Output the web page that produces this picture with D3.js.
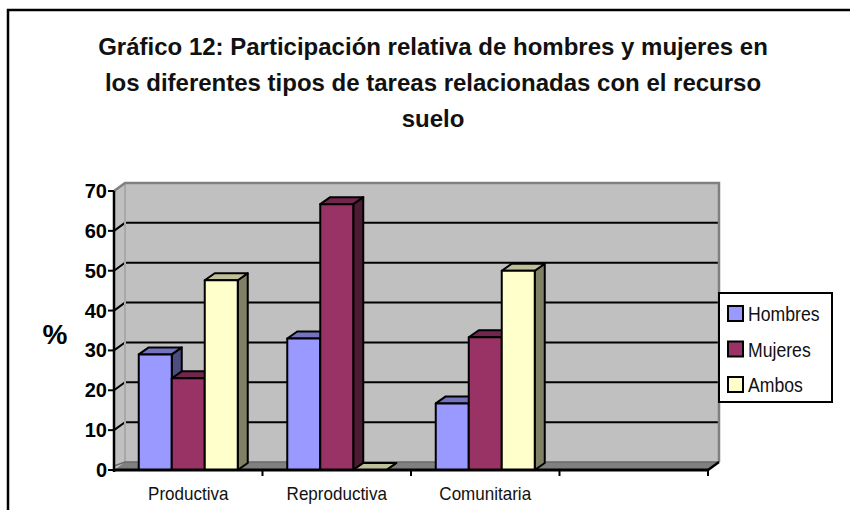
<!DOCTYPE html>
<html>
<head>
<meta charset="utf-8">
<script src="https://cdn.jsdelivr.net/npm/d3@7"></script>
<style>
  body { margin: 0; background: #fff; }
  text { font-family: "Liberation Sans", Arial, sans-serif; }
</style>
</head>
<body>
<div id="chart-area"></div>
<script>

// Data
var categories = ["Productiva", "Reproductiva", "Comunitaria", ""];
var series = ["Hombres", "Mujeres", "Ambos"];
var hombres = [29, 33, 16.7];
var mujeres = [23, 66.7, 33.3];
var ambos = [47.6, 0, 50];
var yTicks = [0, 10, 20, 30, 40, 50, 60, 70];
var titleLines = [
    "Gráfico 12: Participación relativa de hombres y mujeres en",
    "los diferentes tipos de tareas relacionadas con el recurso",
    "suelo"
];

var values = { Hombres: hombres, Mujeres: mujeres, Ambos: ambos };

// front, top, side
var colors = {
    Hombres: ["#9999FF", "#7373BF", "#4D4D80"],
    Mujeres: ["#993366", "#73264D", "#4D1A33"],
    Ambos:   ["#FFFFCC", "#BFBF99", "#808066"]
};

var width = 850, height = 510;

var svg = d3.select("#chart-area").append("svg")
    .attr("width", width)
    .attr("height", height);

// squeeze text a little, the original font is narrower
function condense(sel, k) {
    sel.each(function () {
        var len = this.getComputedTextLength();
        if (len > 0) {
            d3.select(this)
                .attr("textLength", len * k)
                .attr("lengthAdjust", "spacingAndGlyphs");
        }
    });
}

// outer frame (only top and left are inside the picture)
svg.append("path")
    .attr("d", "M8,512 L8,10 L852,10")
    .attr("fill", "none")
    .attr("stroke", "#000")
    .attr("stroke-width", 2.5);

// scales
var x0 = d3.scaleBand()
    .domain(categories)
    .range([114, 708]);

var x1 = d3.scaleBand()
    .domain(series)
    .range([0, x0.bandwidth()])
    .paddingOuter(0.75);

var y = d3.scaleLinear()
    .domain([0, 70])
    .range([470, 191]);

// 3d depth of walls and bars
var wdx = 11, wdy = -8;
var bdx = 10, bdy = -7;

var xl = x0.range()[0], xr = x0.range()[1];
var yTop = y(70), yBot = y(0);

var walls = svg.append("g");

// side wall
walls.append("path")
    .attr("d", "M" + xl + "," + yTop + " L" + (xl + wdx) + "," + (yTop + wdy) +
        " L" + (xl + wdx) + "," + (yBot + wdy) + " L" + xl + "," + yBot + "Z")
    .attr("fill", "#C0C0C0");

// back wall
walls.append("rect")
    .attr("x", xl + wdx)
    .attr("y", yTop + wdy)
    .attr("width", xr - xl)
    .attr("height", yBot - yTop)
    .attr("fill", "#C0C0C0");

// floor
walls.append("path")
    .attr("d", "M" + xl + "," + yBot + " L" + (xl + wdx) + "," + (yBot + wdy) +
        " L" + (xr + wdx) + "," + (yBot + wdy) + " L" + xr + "," + yBot + "Z")
    .attr("fill", "#808080");

// gridlines
walls.selectAll(".grid")
    .data(yTicks.filter(function (d) { return d > 0 && d < 70; }))
    .enter().append("path")
    .attr("class", "grid")
    .attr("d", function (d) {
        return "M" + xl + "," + y(d) + " L" + (xl + wdx) + "," + (y(d) + wdy) +
            " L" + (xr + wdx) + "," + (y(d) + wdy);
    })
    .attr("fill", "none")
    .attr("stroke", "#000")
    .attr("stroke-width", 2);

// wall edges
walls.append("path")
    .attr("d", "M" + (xl + wdx) + "," + (yTop + wdy) + " L" + (xl + wdx) + "," + (yBot + wdy))
    .attr("stroke", "#A8A8A8")
    .attr("stroke-width", 2);

walls.append("path")
    .attr("d", "M" + xl + "," + yTop + " L" + (xl + wdx) + "," + (yTop + wdy) +
        " L" + (xr + wdx) + "," + (yTop + wdy) + " L" + (xr + wdx) + "," + (yBot + wdy))
    .attr("fill", "none")
    .attr("stroke", "#808080")
    .attr("stroke-width", 2.5);

walls.append("path")
    .attr("d", "M" + xl + "," + (yBot + wdy / 2) + " L" + (xl + wdx) + "," + (yBot + wdy) +
        " L" + (xr + wdx) + "," + (yBot + wdy))
    .attr("fill", "none")
    .attr("stroke", "#6a6a6a")
    .attr("stroke-width", 1.5);

walls.append("path")
    .attr("d", "M" + xr + "," + yBot + " L" + (xr + wdx) + "," + (yBot + wdy))
    .attr("stroke", "#000")
    .attr("stroke-width", 2.5);

// bars
var bars = svg.append("g");

categories.forEach(function (cat, i) {
    series.forEach(function (s) {
        var v = values[s][i];
        if (v === undefined) return;
        var bx = x0(cat) + x1(s);
        var bw = x1.bandwidth();
        var by = y(v);
        var g = bars.append("g")
            .attr("stroke", "#000")
            .attr("stroke-width", 2)
            .attr("stroke-linejoin", "round");

        // side
        g.append("path")
            .attr("d", "M" + (bx + bw) + "," + by + " L" + (bx + bw + bdx) + "," + (by + bdy) +
                " L" + (bx + bw + bdx) + "," + (yBot + bdy) + " L" + (bx + bw) + "," + yBot + "Z")
            .attr("fill", colors[s][2]);
        // top
        g.append("path")
            .attr("d", "M" + bx + "," + by + " L" + (bx + bdx) + "," + (by + bdy) +
                " L" + (bx + bw + bdx) + "," + (by + bdy) + " L" + (bx + bw) + "," + by + "Z")
            .attr("fill", colors[s][1]);
        // front
        g.append("rect")
            .attr("x", bx)
            .attr("y", by)
            .attr("width", bw)
            .attr("height", yBot - by)
            .attr("fill", colors[s][0]);
    });
});

// y axis
var yAxis = svg.append("g");
yAxis.append("line")
    .attr("x1", xl).attr("x2", xl)
    .attr("y1", yTop).attr("y2", yBot + 2)
    .attr("stroke", "#000")
    .attr("stroke-width", 2.5);

yAxis.selectAll(".tick")
    .data(yTicks)
    .enter().append("line")
    .attr("x1", xl - 6).attr("x2", xl)
    .attr("y1", function (d) { return y(d); })
    .attr("y2", function (d) { return y(d); })
    .attr("stroke", "#000")
    .attr("stroke-width", 2);

yAxis.selectAll(".lbl")
    .data(yTicks)
    .enter().append("text")
    .attr("x", xl - 7)
    .attr("y", function (d) { return y(d) + 7; })
    .attr("text-anchor", "end")
    .attr("font-size", 20)
    .attr("font-weight", "bold")
    .text(function (d) { return d; });

svg.append("text")
    .attr("x", 55)
    .attr("y", 344)
    .attr("text-anchor", "middle")
    .attr("font-size", 28)
    .attr("font-weight", "bold")
    .text("%");

// x axis
var xAxis = svg.append("g");
xAxis.append("line")
    .attr("x1", xl).attr("x2", xr)
    .attr("y1", yBot).attr("y2", yBot)
    .attr("stroke", "#000")
    .attr("stroke-width", 3);

xAxis.selectAll(".tick")
    .data(categories)
    .enter().append("line")
    .attr("x1", function (d) { return x0(d) + x0.bandwidth(); })
    .attr("x2", function (d) { return x0(d) + x0.bandwidth(); })
    .attr("y1", yBot)
    .attr("y2", yBot + 6)
    .attr("stroke", "#000")
    .attr("stroke-width", 2);

xAxis.selectAll(".lbl")
    .data(categories)
    .enter().append("text")
    .attr("x", function (d) { return x0(d) + x0.bandwidth() / 2; })
    .attr("y", 500)
    .attr("text-anchor", "middle")
    .attr("font-size", 18.5)
    .attr("fill", "#111")
    .text(function (d) { return d; })
    .call(condense, 0.92);

// legend
var legend = svg.append("g").attr("transform", "translate(719,293)");
legend.append("rect")
    .attr("width", 113)
    .attr("height", 109)
    .attr("fill", "#fff")
    .attr("stroke", "#000")
    .attr("stroke-width", 2);

var item = legend.selectAll(".item")
    .data(series)
    .enter().append("g")
    .attr("transform", function (d, i) { return "translate(9," + (13 + i * 35.5) + ")"; });

item.append("rect")
    .attr("width", 15)
    .attr("height", 15)
    .attr("fill", function (d) { return colors[d][0]; })
    .attr("stroke", "#000")
    .attr("stroke-width", 2);

item.append("text")
    .attr("x", 20)
    .attr("y", 15)
    .attr("font-size", 21)
    .attr("fill", "#111")
    .text(function (d) { return d; })
    .call(condense, 0.84);

// title
svg.selectAll(".title")
    .data(titleLines)
    .enter().append("text")
    .attr("class", "title")
    .attr("x", 433)
    .attr("y", function (d, i) { return 55 + i * 36; })
    .attr("text-anchor", "middle")
    .attr("font-size", 24)
    .attr("font-weight", "bold")
    .attr("fill", "#111")
    .text(function (d) { return d; });

</script>
</body>
</html>
